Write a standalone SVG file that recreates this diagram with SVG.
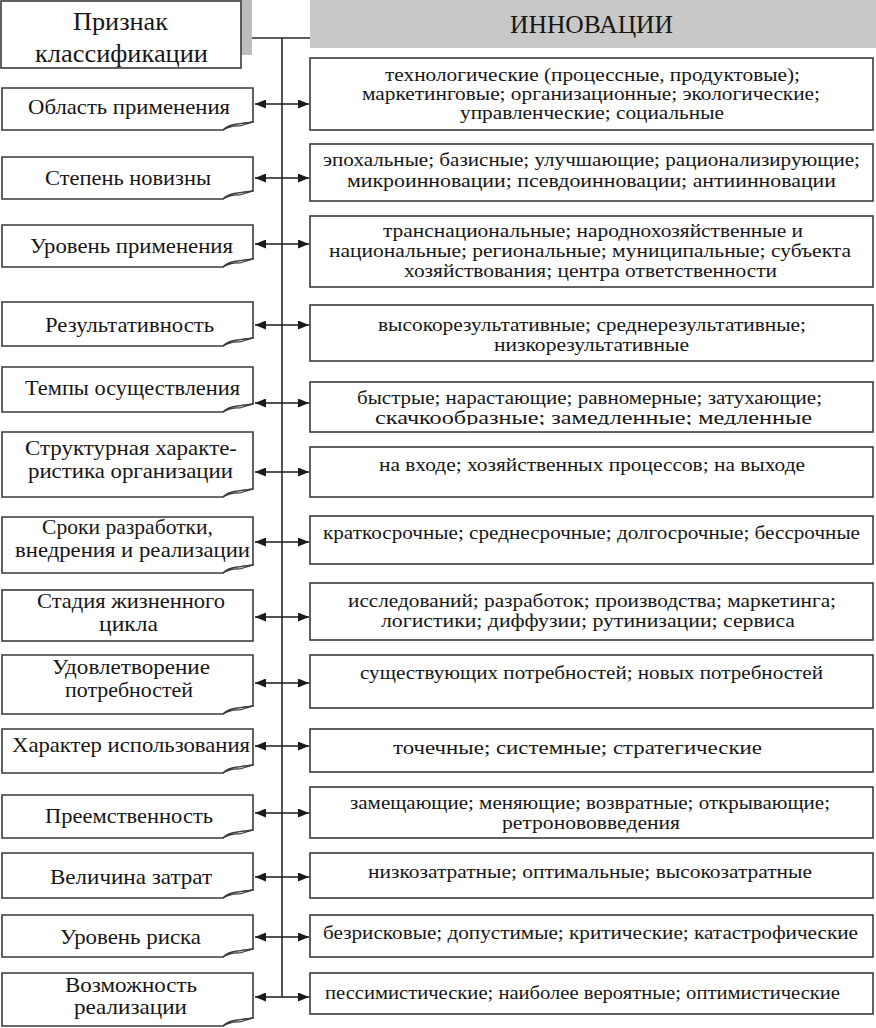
<svg xmlns="http://www.w3.org/2000/svg" width="876" height="1028" viewBox="0 0 876 1028" font-family="'Liberation Serif', 'DejaVu Serif', serif">
<style>
text{font-family:'Liberation Serif','DejaVu Serif',serif;fill:#161616;text-anchor:middle}
.bx{fill:#fff;stroke:#3a3a3a;stroke-width:1.6}
.fold{fill:#d8d8d8;stroke:#3a3a3a;stroke-width:1.2}
.lt{font-size:22px}
.lt2{font-size:21px}
.rt{font-size:19.5px}
.hd{font-size:25px}
.ln{stroke:#2a2a2a;stroke-width:1.6;fill:none}
.ar{stroke:#1a1a1a;stroke-width:1.6;fill:none;marker-start:url(#ah);marker-end:url(#ah)}
</style>
<defs>
<marker id="ah" viewBox="0 0 11 9" refX="11" refY="4.5" markerWidth="11" markerHeight="9" markerUnits="userSpaceOnUse" orient="auto-start-reverse">
<path d="M0,0 L11,4.5 L0,9 Z" fill="#1a1a1a"/>
</marker>
<clipPath id="clip5"><rect x="310" y="382" width="564" height="43"/></clipPath>
</defs>
<rect width="876" height="1028" fill="#fff"/>

<g id="connectors">
<path class="ln" d="M241,38 H310 M282,38 V997"/>
<path class="ar" d="M255,104 H309"/>
<path class="ar" d="M255,178 H309"/>
<path class="ar" d="M255,244 H309"/>
<path class="ar" d="M255,325 H309"/>
<path class="ar" d="M255,403 H309"/>
<path class="ar" d="M255,472 H309"/>
<path class="ar" d="M255,542 H309"/>
<path class="ar" d="M255,617 H309"/>
<path class="ar" d="M255,683 H309"/>
<path class="ar" d="M255,746 H309"/>
<path class="ar" d="M255,813 H309"/>
<path class="ar" d="M255,877 H309"/>
<path class="ar" d="M255,937 H309"/>
<path class="ar" d="M255,997 H309"/>
</g>

<g id="header-left">
<rect x="241" y="0" width="11" height="55" fill="#bdbdbd"/>
<rect class="bx" x="1" y="1" width="240" height="67"/>
<text class="hd" x="120.5" y="30" textLength="95" lengthAdjust="spacingAndGlyphs">Признак</text>
<text class="hd" x="121.5" y="62" textLength="173" lengthAdjust="spacingAndGlyphs">классификации</text>
</g>
<g id="header-right">
<rect x="310" y="0" width="566" height="48" fill="#c8c8c8"/>
<text class="hd" x="591.5" y="33" font-size="24" textLength="163" lengthAdjust="spacingAndGlyphs">ИННОВАЦИИ</text>
</g>

<g id="l1"><path class="bx" d="M2,88 H253 V122 L238,124 Q228,125 223,130 H2 Z"/><path class="fold" d="M223,130 Q232,125 240,126 L253,122 L238,124 Q228,125 223,130 Z"/><text class="lt" x="129" y="114" textLength="202" lengthAdjust="spacingAndGlyphs">Область применения</text></g>
<g id="l2"><path class="bx" d="M2,157 H253 V191 L238,193 Q228,194 223,199 H2 Z"/><path class="fold" d="M223,199 Q232,194 240,195 L253,191 L238,193 Q228,194 223,199 Z"/><text class="lt" x="128" y="185" textLength="166" lengthAdjust="spacingAndGlyphs">Степень новизны</text></g>
<g id="l3"><path class="bx" d="M2,225 H253 V259 L238,261 Q228,262 223,267 H2 Z"/><path class="fold" d="M223,267 Q232,262 240,263 L253,259 L238,261 Q228,262 223,267 Z"/><text class="lt" x="131.5" y="253" textLength="203" lengthAdjust="spacingAndGlyphs">Уровень применения</text></g>
<g id="l4"><path class="bx" d="M2,302 H253 V338 L238,340 Q228,341 223,346 H2 Z"/><path class="fold" d="M223,346 Q232,341 240,342 L253,338 L238,340 Q228,341 223,346 Z"/><text class="lt" x="129.5" y="332" textLength="169" lengthAdjust="spacingAndGlyphs">Результативность</text></g>
<g id="l5"><path class="bx" d="M2,367 H253 V404 L238,406 Q228,407 223,412 H2 Z"/><path class="fold" d="M223,412 Q232,407 240,408 L253,404 L238,406 Q228,407 223,412 Z"/><text class="lt" x="132.5" y="395" textLength="215" lengthAdjust="spacingAndGlyphs">Темпы осуществления</text></g>
<g id="l6"><path class="bx" d="M2,432 H253 V489 L238,491 Q228,492 223,497 H2 Z"/><path class="fold" d="M223,497 Q232,492 240,493 L253,489 L238,491 Q228,492 223,497 Z"/><text class="lt2" x="131" y="455" textLength="212" lengthAdjust="spacingAndGlyphs">Структурная характе-</text><text class="lt2" x="130.5" y="478" textLength="205" lengthAdjust="spacingAndGlyphs">ристика организации</text></g>
<g id="l7"><path class="bx" d="M2,517 H253 V565 L238,567 Q228,568 223,573 H2 Z"/><path class="fold" d="M223,573 Q232,568 240,569 L253,565 L238,567 Q228,568 223,573 Z"/><text class="lt2" x="127.5" y="534" textLength="171" lengthAdjust="spacingAndGlyphs">Сроки разработки,</text><text class="lt2" x="132.5" y="557" textLength="235" lengthAdjust="spacingAndGlyphs">внедрения и реализации</text></g>
<g id="l8"><rect class="bx" x="2" y="590" width="251" height="51"/><text class="lt2" x="131" y="608" textLength="188" lengthAdjust="spacingAndGlyphs">Стадия жизненного</text><text class="lt2" x="128.5" y="631" textLength="59" lengthAdjust="spacingAndGlyphs">цикла</text></g>
<g id="l9"><path class="bx" d="M2,655 H253 V706 L238,708 Q228,709 223,714 H2 Z"/><path class="fold" d="M223,714 Q232,709 240,710 L253,706 L238,708 Q228,709 223,714 Z"/><text class="lt2" x="131" y="674" textLength="158" lengthAdjust="spacingAndGlyphs">Удовлетворение</text><text class="lt2" x="129" y="697" textLength="128" lengthAdjust="spacingAndGlyphs">потребностей</text></g>
<g id="l10"><path class="bx" d="M2,729 H253 V765 L238,767 Q228,768 223,773 H2 Z"/><path class="fold" d="M223,773 Q232,768 240,769 L253,765 L238,767 Q228,768 223,773 Z"/><text class="lt" x="131" y="752" textLength="238" lengthAdjust="spacingAndGlyphs">Характер использования</text></g>
<g id="l11"><path class="bx" d="M2,795 H253 V830 L238,832 Q228,833 223,838 H2 Z"/><path class="fold" d="M223,838 Q232,833 240,834 L253,830 L238,832 Q228,833 223,838 Z"/><text class="lt" x="129" y="823" textLength="168" lengthAdjust="spacingAndGlyphs">Преемственность</text></g>
<g id="l12"><path class="bx" d="M2,853 H253 V890 L238,892 Q228,893 223,898 H2 Z"/><path class="fold" d="M223,898 Q232,893 240,894 L253,890 L238,892 Q228,893 223,898 Z"/><text class="lt" x="131" y="884" textLength="162" lengthAdjust="spacingAndGlyphs">Величина затрат</text></g>
<g id="l13"><path class="bx" d="M2,915 H253 V949 L238,951 Q228,952 223,957 H2 Z"/><path class="fold" d="M223,957 Q232,952 240,953 L253,949 L238,951 Q228,952 223,957 Z"/><text class="lt" x="130.5" y="944" textLength="141" lengthAdjust="spacingAndGlyphs">Уровень риска</text></g>
<g id="l14"><path class="bx" d="M2,973 H253 V1018 L238,1020 Q228,1021 223,1026 H2 Z"/><path class="fold" d="M223,1026 Q232,1021 240,1022 L253,1018 L238,1020 Q228,1021 223,1026 Z"/><text class="lt2" x="131" y="992" textLength="132" lengthAdjust="spacingAndGlyphs">Возможность</text><text class="lt2" x="130.5" y="1014" textLength="113" lengthAdjust="spacingAndGlyphs">реализации</text></g>

<g id="r1"><rect class="bx" x="310" y="58" width="563" height="72"/><text class="rt" x="592.5" y="81" textLength="415" lengthAdjust="spacingAndGlyphs">технологические (процессные, продуктовые);</text><text class="rt" x="591" y="100" textLength="458" lengthAdjust="spacingAndGlyphs">маркетинговые; организационные; экологические;</text><text class="rt" x="592" y="119" textLength="264" lengthAdjust="spacingAndGlyphs">управленческие; социальные</text></g>
<g id="r2"><rect class="bx" x="310" y="144" width="563" height="57"/><text class="rt" x="591.5" y="166" textLength="537" lengthAdjust="spacingAndGlyphs">эпохальные; базисные; улучшающие; рационализирующие;</text><text class="rt" x="591.5" y="187" textLength="489" lengthAdjust="spacingAndGlyphs">микроинновации; псевдоинновации; антиинновации</text></g>
<g id="r3"><rect class="bx" x="310" y="216" width="563" height="71"/><text class="rt" x="593" y="237" textLength="420" lengthAdjust="spacingAndGlyphs">транснациональные; народнохозяйственные и</text><text class="rt" x="590" y="257" textLength="522" lengthAdjust="spacingAndGlyphs">национальные; региональные; муниципальные; субъекта</text><text class="rt" x="590.5" y="277" textLength="373" lengthAdjust="spacingAndGlyphs">хозяйствования; центра ответственности</text></g>
<g id="r4"><rect class="bx" x="310" y="305" width="563" height="56"/><text class="rt" x="592" y="331" textLength="428" lengthAdjust="spacingAndGlyphs">высокорезультативные; среднерезультативные;</text><text class="rt" x="591.5" y="351" textLength="195" lengthAdjust="spacingAndGlyphs">низкорезультативные</text></g>
<g id="r5"><rect class="bx" x="310" y="382" width="563" height="50"/><g clip-path="url(#clip5)"><text class="rt" x="589.5" y="404" textLength="465" lengthAdjust="spacingAndGlyphs">быстрые; нарастающие; равномерные; затухающие;</text><text class="rt" x="593.5" y="424" textLength="437" lengthAdjust="spacingAndGlyphs">скачкообразные; замедленные; медленные</text></g></g>
<g id="r6"><rect class="bx" x="310" y="447" width="563" height="50"/><text class="rt" x="592" y="471" textLength="426" lengthAdjust="spacingAndGlyphs">на входе; хозяйственных процессов; на выходе</text></g>
<g id="r7"><rect class="bx" x="310" y="516" width="563" height="48"/><text class="rt" x="591.5" y="539" textLength="537" lengthAdjust="spacingAndGlyphs">краткосрочные; среднесрочные; долгосрочные; бессрочные</text></g>
<g id="r8"><rect class="bx" x="310" y="583" width="563" height="57"/><text class="rt" x="592" y="607" textLength="488" lengthAdjust="spacingAndGlyphs">исследований; разработок; производства; маркетинга;</text><text class="rt" x="588" y="627" textLength="414" lengthAdjust="spacingAndGlyphs">логистики; диффузии; рутинизации; сервиса</text></g>
<g id="r9"><rect class="bx" x="310" y="655" width="563" height="53"/><text class="rt" x="591.5" y="679" textLength="463" lengthAdjust="spacingAndGlyphs">существующих потребностей; новых потребностей</text></g>
<g id="r10"><rect class="bx" x="310" y="729" width="563" height="43"/><text class="rt" x="577.5" y="754" textLength="369" lengthAdjust="spacingAndGlyphs">точечные; системные; стратегические</text></g>
<g id="r11"><rect class="bx" x="310" y="787" width="563" height="51"/><text class="rt" x="590" y="809" textLength="480" lengthAdjust="spacingAndGlyphs">замещающие; меняющие; возвратные; открывающие;</text><text class="rt" x="591" y="829" textLength="178" lengthAdjust="spacingAndGlyphs">ретронововведения</text></g>
<g id="r12"><rect class="bx" x="310" y="853" width="563" height="45"/><text class="rt" x="590" y="878" textLength="444" lengthAdjust="spacingAndGlyphs">низкозатратные; оптимальные; высокозатратные</text></g>
<g id="r13"><rect class="bx" x="310" y="915" width="563" height="42"/><text class="rt" x="590.5" y="939" textLength="535" lengthAdjust="spacingAndGlyphs">безрисковые; допустимые; критические; катастрофические</text></g>
<g id="r14"><rect class="bx" x="310" y="973" width="563" height="41"/><text class="rt" x="582.5" y="999" textLength="515" lengthAdjust="spacingAndGlyphs">пессимистические; наиболее вероятные; оптимистические</text></g>
</svg>
